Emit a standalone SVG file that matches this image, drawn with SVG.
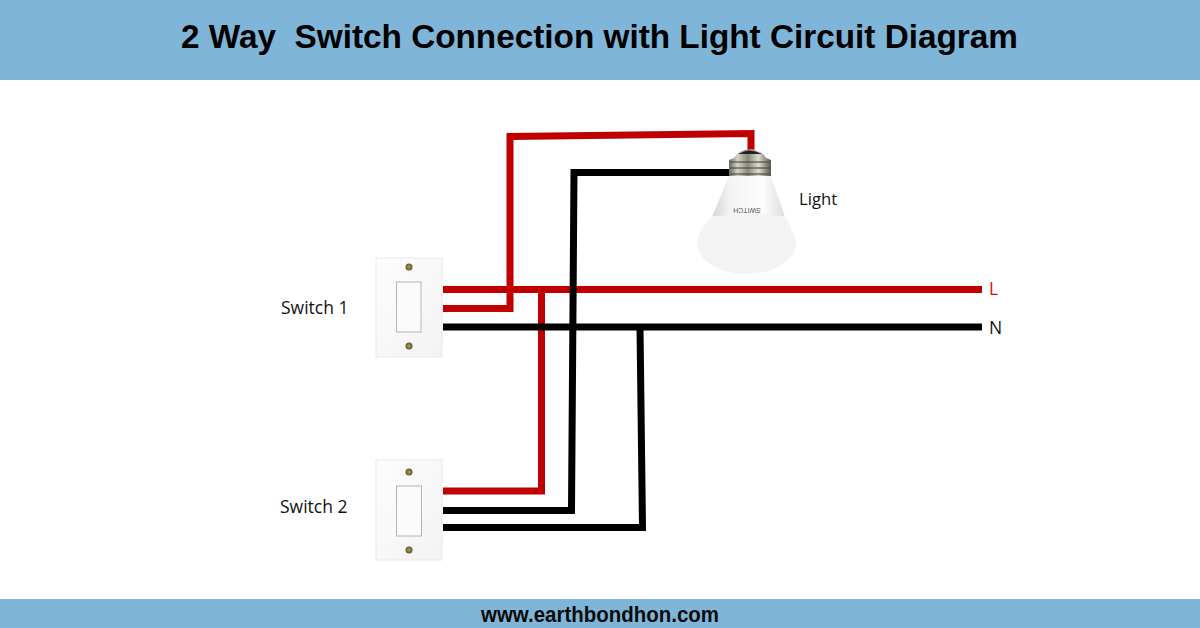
<svg xmlns="http://www.w3.org/2000/svg" width="1200" height="628" viewBox="0 0 1200 628">
<defs>
<linearGradient id="plate" x1="0" y1="0" x2="1" y2="1"><stop offset="0" stop-color="#fdfdfd"/><stop offset="1" stop-color="#f3f3f3"/></linearGradient>
<linearGradient id="neck" x1="0" y1="0" x2="1" y2="0"><stop offset="0" stop-color="#d4d4d8"/><stop offset=".25" stop-color="#f4f4f4"/><stop offset=".7" stop-color="#fcfcfc"/><stop offset="1" stop-color="#dedee0"/></linearGradient>
<linearGradient id="metal" x1="0" y1="0" x2="1" y2="0"><stop offset="0" stop-color="#6a675e"/><stop offset=".2" stop-color="#d5d2c6"/><stop offset=".45" stop-color="#8a877c"/><stop offset=".7" stop-color="#dedbd0"/><stop offset="1" stop-color="#5a5850"/></linearGradient>
<radialGradient id="screw"><stop offset="0" stop-color="#b0a040"/><stop offset="1" stop-color="#5c5636"/></radialGradient>
</defs>
<style>
.bar{fill:#7fb5d8}
.wire{fill:none;stroke-width:7;stroke-linejoin:miter}
.red{stroke:#c00000}.blk{stroke:#000}
.lbl{font-family:"Open Sans","Noto Sans",sans-serif;font-size:17.500px;fill:#111}
.plate{fill:url(#plate);stroke:#e9e9e9;stroke-width:1}
.rocker{fill:#fbfbfb;stroke:#b4b4b4;stroke-width:1}
.thread{stroke:#4a4840;stroke-width:1.500;opacity:.75}
</style>
<rect width="1200" height="628" fill="#fff"/>
<rect class="bar" width="1200" height="80"/>
<rect class="bar" y="599" width="1200" height="29"/>
<text x="599.500" y="48" text-anchor="middle" xml:space="preserve" style="font-family:'Liberation Sans',Arial,sans-serif;font-weight:700;font-size:33.300px" fill="#000">2 Way  Switch Connection with Light Circuit Diagram</text>
<text x="481" y="622" textLength="238" lengthAdjust="spacingAndGlyphs" style="font-family:'Liberation Sans',Arial,sans-serif;font-weight:700;font-size:22.500px" fill="#0a0a0a">www.earthbondhon.com</text>
<g id="connectors">
<path class="wire red" d="M443 308.500H510L510 136.500L751 133.500V152"/>
<path class="wire red" d="M443 289.500H982"/>
<path class="wire red" d="M443 491H541.500V289"/>
<path class="wire blk" d="M443 327H982"/>
<path class="wire blk" d="M443 510.500H571.500L574 172.500H732"/>
<path class="wire blk" d="M443 527.500H642.500L640 327"/>
</g>
<g id="light">
<path d="M729 176H771L785 217H712Z" fill="url(#neck)"/>
<ellipse cx="746.500" cy="243" rx="49.500" ry="31" fill="#f3f3f3"/>
<path d="M712 216H785L792 228H702Z" fill="#f3f3f3"/>
<path d="M734 158Q738 150 750 149Q762 150 766 158L771 160V176H729V160Z" fill="url(#metal)"/>
<path d="M738 154Q750 147 762 154Z" fill="#222"/>
<path class="thread" d="M730 162H770M730 168H770M730 174H770"/>
<text transform="rotate(180 747 210)" x="747" y="212.500" text-anchor="middle" style="font-family:'Liberation Sans',Arial,sans-serif;font-size:7px" fill="#555">SWITCH</text>
<text class="lbl" style="font-size:16.700px" x="799" y="205">Light</text>
</g>
<g id="switch1">
<rect class="plate" x="376" y="258" width="66" height="99"/>
<rect class="rocker" x="396.500" y="282" width="24.500" height="50"/>
<circle cx="409" cy="267" r="3.500" fill="url(#screw)"/><circle cx="409" cy="346" r="3.500" fill="url(#screw)"/>
<text class="lbl" x="281" y="314">Switch 1</text>
</g>
<g id="switch2">
<rect class="plate" x="376" y="460" width="66" height="100"/>
<rect class="rocker" x="396.500" y="486" width="25" height="50"/>
<circle cx="409" cy="472" r="3.500" fill="url(#screw)"/><circle cx="409" cy="550" r="3.500" fill="url(#screw)"/>
<text class="lbl" x="280" y="513">Switch 2</text>
</g>
<text id="L" x="989" y="295" style="font-family:'Open Sans','Noto Sans',sans-serif;font-size:17.500px" fill="#d41414">L</text>
<text id="N" class="lbl" x="989" y="334">N</text>
</svg>
